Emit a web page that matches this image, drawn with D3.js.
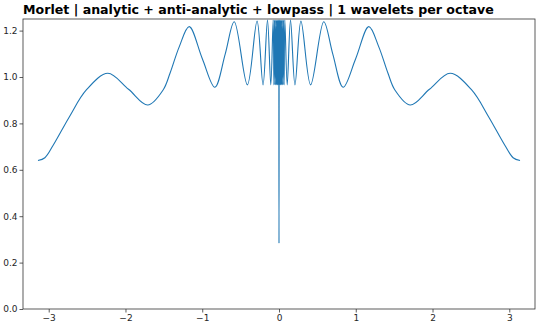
<!DOCTYPE html>
<html>
<head>
<meta charset="utf-8">
<script src="https://cdn.jsdelivr.net/npm/d3@7"></script>
<style>
  body { margin: 0; background: #fff; }
  svg { display: block; }
  .tick text { font-family: "DejaVu Sans", sans-serif; fill: #262626; }
</style>
</head>
<body>
<svg id="chart" width="540" height="322"></svg>
<script>
// frequency (rad) and summed response
const freqs = [
  -3.14, -3.05, -2.94, -2.73, -2.51, -2.23, -1.96, -1.71, -1.51, -1.42, -1.30,
  -1.17, -1.00, -0.836, -0.70, -0.583, -0.412, -0.286, -0.208, -0.150, -0.107,
  -0.076, -0.066, -0.058, -0.050, -0.043, -0.036, -0.030, -0.024, -0.019,
  -0.014, -0.010, -0.006, -0.003, 0,
  0.003, 0.006, 0.010, 0.014, 0.019, 0.024, 0.030, 0.036, 0.043, 0.050,
  0.058, 0.066, 0.076,
  0.107, 0.150, 0.208, 0.286, 0.412, 0.583, 0.70, 0.836, 1.00, 1.17,
  1.30, 1.42, 1.51, 1.71, 1.96, 2.23, 2.51, 2.73, 2.94, 3.05, 3.14
];
const response = [
  0.640, 0.652, 0.707, 0.829, 0.944, 1.016, 0.947, 0.879, 0.944, 1.016, 1.13,
  1.217, 1.08, 0.956, 1.10, 1.238, 0.966, 1.241, 0.966, 1.245, 0.966,
  1.245, 0.966, 1.245, 0.966, 1.245, 0.966, 1.245, 0.966, 1.245,
  0.966, 1.245, 0.966, 1.245, 0.283,
  1.245, 0.966, 1.245, 0.966, 1.245, 0.966, 1.245, 0.966, 1.245, 0.966,
  1.245, 0.966, 1.245,
  0.966, 1.245, 0.966, 1.241, 0.966, 1.238, 1.10, 0.956, 1.08, 1.217,
  1.13, 1.016, 0.944, 0.879, 0.947, 1.016, 0.944, 0.829, 0.707, 0.652, 0.640
];
const xTicks = [-3, -2, -1, 0, 1, 2, 3];
const yTicks = [0.0, 0.2, 0.4, 0.6, 0.8, 1.0, 1.2];
const title = 'Morlet | analytic + anti-analytic + lowpass | 1 wavelets per octave';

const svg = d3.select('#chart');
const margin = { left: 23, right: 5, top: 19, bottom: 13 };
const W = 540, H = 322;

const x = d3.scaleLinear().domain([-3.335, 3.335]).range([margin.left, W - margin.right]);
const y = d3.scaleLinear().domain([0, 1.25]).range([H - margin.bottom, margin.top]);

const data = freqs.map((f, i) => ({ x: f, y: response[i] }));

const line = d3.line()
  .x(d => x(d.x))
  .y(d => y(d.y))
  .curve(d3.curveCatmullRom.alpha(0.5));

svg.append('clipPath').attr('id', 'clip')
  .append('rect')
  .attr('x', margin.left).attr('y', margin.top)
  .attr('width', W - margin.left - margin.right)
  .attr('height', H - margin.top - margin.bottom);

svg.append('path')
  .datum(data)
  .attr('clip-path', 'url(#clip)')
  .attr('fill', 'none')
  .attr('stroke', '#1f77b4')
  .attr('stroke-width', 1.1)
  .attr('d', line);

// axes
const xAxis = d3.axisBottom(x).tickValues(xTicks).tickSize(3.5).tickPadding(2)
  .tickFormat(d => d < 0 ? '\u2212' + Math.abs(d) : d);
const yAxis = d3.axisLeft(y).tickValues(yTicks).tickSize(3.5).tickPadding(2)
  .tickFormat(d3.format('.1f'));

const gx = svg.append('g')
  .attr('transform', `translate(0,${H - margin.bottom})`)
  .call(xAxis);
const gy = svg.append('g')
  .attr('transform', `translate(${margin.left},0)`)
  .call(yAxis);

[gx, gy].forEach(g => {
  g.select('.domain').remove();
  g.selectAll('.tick line').attr('stroke', '#333').attr('stroke-width', 0.8);
  g.selectAll('.tick text').attr('font-size', 9);
});

// frame
svg.append('rect')
  .attr('x', margin.left).attr('y', margin.top)
  .attr('width', W - margin.left - margin.right)
  .attr('height', H - margin.top - margin.bottom)
  .attr('fill', 'none')
  .attr('stroke', '#333')
  .attr('stroke-width', 0.8);

svg.append('text')
  .attr('x', margin.left)
  .attr('y', 14)
  .attr('font-family', 'DejaVu Sans, sans-serif')
  .attr('font-weight', 'bold')
  .attr('font-size', 12.6)
  .attr('fill', '#000')
  .text(title);
</script>
</body>
</html>
